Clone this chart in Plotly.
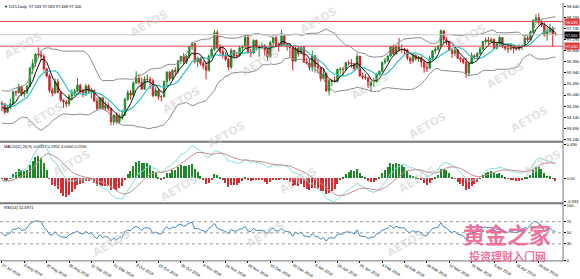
import numpy as np
import pandas as pd
import plotly.graph_objects as go

# ---------------- data ----------------
# closes before the first visible bar, only used to seed the indicators
warmup_close = [94.84, 94.78, 94.58, 95.05, 95.15, 94.87, 94.49, 94.24, 94.62, 95.03,
                95.28, 94.60, 94.88, 94.55, 94.58, 94.18, 94.00, 93.96, 94.14, 94.73,
                94.83, 94.65, 94.51, 94.99, 95.11, 95.16, 94.45, 94.49, 94.57, 94.19, 94.71]

opens = [94.71, 94.67, 94.34, 94.53, 94.68, 95.17, 95.14, 95.38, 95.08, 95.14,
         95.40, 96.12, 96.33, 96.70, 96.68, 96.62, 96.11, 95.82, 95.23, 95.12,
         95.58, 95.14, 94.83, 94.76, 94.68, 94.99, 95.14, 95.20, 95.44, 95.18,
         95.12, 95.41, 95.18, 95.24, 94.80, 94.49, 94.93, 94.50, 94.61, 94.50,
         93.95, 94.22, 93.94, 94.19, 94.22, 94.87, 95.13, 95.04, 95.53, 95.73,
         95.56, 95.28, 95.69, 95.68, 95.62, 95.02, 95.23, 94.98, 94.97, 95.59,
         95.97, 95.70, 96.05, 96.00, 96.44, 96.62, 96.39, 96.62, 97.01, 97.13,
         96.40, 96.54, 96.33, 96.23, 96.05, 96.62, 96.90, 97.58, 96.97, 96.80,
         96.67, 96.49, 96.18, 96.86, 96.65, 96.64, 96.96, 97.01, 97.40, 96.80,
         96.76, 97.27, 96.98, 97.02, 97.03, 96.88, 96.60, 97.18, 97.38, 97.06,
         97.04, 97.45, 97.10, 97.05, 96.97, 96.42, 96.95, 96.73, 96.98, 96.38,
         96.34, 96.17, 96.64, 96.21, 96.15, 95.72, 95.90, 95.21, 95.62, 95.63,
         95.60, 96.08, 96.10, 96.09, 96.36, 96.34, 96.32, 96.12, 96.62, 95.82,
         95.78, 95.74, 95.43, 95.58, 95.58, 95.90, 96.01, 96.37, 96.45, 96.63,
         97.02, 96.72, 97.03, 96.88, 96.90, 96.87, 96.54, 96.43, 96.66, 96.51,
         96.58, 96.39, 96.16, 96.14, 96.54, 96.84, 96.91, 97.03, 97.66, 97.30,
         97.21, 96.88, 96.74, 96.87, 96.54, 96.50, 96.37, 95.94, 96.32, 96.64,
         96.61, 96.73, 96.92, 97.21, 97.28, 97.22, 97.30, 96.95, 97.12, 97.38,
         97.01, 96.95, 96.92, 97.05, 96.94, 96.92, 97.03, 97.04, 97.37, 97.30,
         97.60, 98.09, 98.19, 98.01, 97.88, 97.48, 97.62, 97.77, 97.533]

highs = [94.80, 94.72, 94.63, 94.90, 95.23, 95.24, 95.50, 95.40, 95.25, 95.45,
         96.20, 96.50, 96.75, 96.98, 96.84, 96.70, 96.12, 95.90, 95.35, 95.71,
         95.70, 95.20, 94.87, 94.85, 95.08, 95.28, 95.30, 95.74, 95.50, 95.30,
         95.50, 95.48, 95.33, 95.26, 94.95, 94.95, 94.95, 94.80, 94.75, 94.52,
         94.27, 94.33, 94.26, 94.45, 94.93, 95.25, 95.24, 95.60, 96.01, 95.87,
         95.76, 95.80, 95.87, 95.78, 95.70, 95.36, 95.26, 95.05, 95.63, 96.02,
         96.02, 96.08, 96.17, 96.45, 96.63, 96.75, 96.68, 97.03, 97.20, 97.15,
         96.60, 96.60, 96.43, 96.40, 96.70, 96.98, 97.70, 97.69, 97.12, 97.05,
         96.79, 96.55, 96.95, 96.88, 96.75, 97.05, 97.06, 97.53, 97.53, 96.92,
         97.31, 97.30, 97.10, 97.18, 97.12, 97.00, 97.25, 97.40, 97.43, 97.20,
         97.71, 97.52, 97.15, 97.15, 97.00, 97.00, 97.00, 97.05, 97.05, 96.55,
         96.50, 96.85, 96.67, 96.50, 96.18, 96.12, 95.95, 95.70, 95.70, 95.80,
         96.12, 96.18, 96.20, 96.40, 96.45, 96.50, 96.35, 96.74, 96.64, 95.95,
         95.90, 95.78, 95.62, 95.75, 95.92, 96.05, 96.40, 96.56, 96.65, 97.05,
         97.10, 97.05, 97.37, 97.10, 96.96, 96.93, 96.60, 96.72, 96.70, 96.63,
         96.60, 96.48, 96.35, 96.65, 96.88, 97.00, 97.08, 97.71, 97.68, 97.40,
         97.25, 96.95, 96.95, 96.92, 96.60, 96.55, 96.55, 96.40, 96.78, 96.70,
         96.80, 97.00, 97.25, 97.38, 97.40, 97.38, 97.35, 97.20, 97.46, 97.40,
         97.05, 97.10, 97.15, 97.08, 97.05, 97.10, 97.10, 97.48, 97.45, 97.68,
         98.12, 98.33, 98.37, 98.10, 98.00, 97.80, 97.95, 97.83, 97.583]

lows = [94.39, 94.26, 94.31, 94.46, 94.64, 94.99, 95.11, 95.00, 94.95, 95.08,
        95.35, 95.90, 96.20, 96.58, 96.45, 96.00, 95.75, 95.13, 94.98, 95.10,
        95.12, 94.78, 94.52, 94.55, 94.58, 94.80, 95.00, 95.15, 95.12, 94.95,
        95.00, 95.10, 94.90, 94.75, 94.40, 94.45, 94.45, 94.40, 94.38, 93.81,
        93.81, 93.88, 93.88, 94.03, 94.21, 94.80, 94.85, 95.00, 95.50, 95.47,
        95.27, 95.25, 95.56, 95.28, 94.95, 94.99, 94.85, 94.78, 94.95, 95.40,
        95.60, 95.65, 95.83, 95.92, 96.30, 96.28, 96.30, 96.55, 96.88, 96.33,
        96.19, 96.25, 96.08, 95.68, 96.00, 96.60, 96.85, 96.92, 96.68, 96.53,
        96.43, 96.06, 96.10, 96.50, 96.53, 96.60, 96.75, 96.95, 96.72, 96.58,
        96.72, 96.85, 96.60, 96.90, 96.63, 96.45, 96.55, 96.93, 97.00, 96.81,
        97.00, 97.05, 96.85, 96.60, 96.05, 96.40, 96.60, 96.70, 96.35, 96.30,
        96.05, 96.00, 95.95, 95.92, 95.60, 95.70, 95.18, 95.03, 95.40, 95.55,
        95.55, 95.90, 95.82, 96.05, 96.25, 96.15, 96.00, 96.10, 95.78, 95.67,
        95.65, 95.33, 95.16, 95.38, 95.55, 95.80, 95.98, 96.30, 96.38, 96.60,
        96.66, 96.68, 96.80, 96.75, 96.70, 96.45, 96.30, 96.35, 96.45, 96.40,
        96.18, 95.95, 95.98, 96.10, 96.45, 96.70, 96.85, 96.98, 97.15, 97.08,
        96.83, 96.55, 96.62, 96.50, 96.38, 96.30, 95.74, 95.80, 96.30, 96.50,
        96.55, 96.70, 96.88, 97.10, 97.10, 97.18, 96.90, 96.90, 97.05, 96.95,
        96.85, 96.75, 96.85, 96.74, 96.85, 96.85, 96.88, 97.00, 97.20, 97.25,
        97.55, 97.98, 97.88, 97.80, 97.42, 97.25, 97.55, 97.03, 97.468]

closes = [94.67, 94.34, 94.53, 94.68, 95.17, 95.14, 95.38, 95.08, 95.14, 95.40,
          96.12, 96.33, 96.70, 96.68, 96.62, 96.11, 95.82, 95.23, 95.12, 95.58,
          95.14, 94.83, 94.76, 94.68, 94.99, 95.14, 95.20, 95.44, 95.18, 95.12,
          95.41, 95.18, 95.24, 94.80, 94.49, 94.93, 94.50, 94.61, 94.50, 93.95,
          94.22, 93.94, 94.19, 94.22, 94.87, 95.13, 95.04, 95.53, 95.73, 95.56,
          95.28, 95.69, 95.68, 95.62, 95.02, 95.23, 94.98, 94.97, 95.59, 95.97,
          95.70, 96.05, 96.00, 96.44, 96.62, 96.39, 96.62, 97.01, 97.13, 96.40,
          96.54, 96.33, 96.23, 96.05, 96.62, 96.90, 97.58, 96.97, 96.80, 96.67,
          96.49, 96.18, 96.86, 96.65, 96.64, 96.96, 97.01, 97.40, 96.80, 96.76,
          97.27, 96.98, 97.02, 97.03, 96.88, 96.60, 97.18, 97.38, 97.06, 97.04,
          97.45, 97.10, 97.05, 96.97, 96.42, 96.95, 96.73, 96.98, 96.38, 96.34,
          96.17, 96.64, 96.21, 96.15, 95.72, 95.90, 95.21, 95.62, 95.63, 95.60,
          96.08, 96.10, 96.09, 96.36, 96.34, 96.32, 96.12, 96.62, 95.82, 95.78,
          95.74, 95.43, 95.58, 95.58, 95.90, 96.01, 96.37, 96.45, 96.63, 97.02,
          96.72, 97.03, 96.88, 96.90, 96.87, 96.54, 96.43, 96.66, 96.51, 96.58,
          96.39, 96.16, 96.14, 96.54, 96.84, 96.91, 97.03, 97.66, 97.30, 97.21,
          96.88, 96.74, 96.87, 96.54, 96.50, 96.37, 95.94, 96.32, 96.64, 96.61,
          96.73, 96.92, 97.21, 97.28, 97.22, 97.30, 96.95, 97.12, 97.38, 97.01,
          96.95, 96.92, 97.05, 96.94, 96.92, 97.03, 97.04, 97.37, 97.30, 97.60,
          98.09, 98.19, 98.01, 97.88, 97.48, 97.62, 97.77, 97.52, 97.500]

date_labels = ["27 Jul 2018", "8 Aug 2018", "20 Aug 2018", "30 Aug 2018", "11 Sep 2018",
               "21 Sep 2018", "3 Oct 2018", "15 Oct 2018", "25 Oct 2018", "6 Nov 2018",
               "16 Nov 2018", "28 Nov 2018", "10 Dec 2018", "20 Dec 2018", "3 Jan 2019",
               "15 Jan 2019", "25 Jan 2019", "6 Feb 2019", "18 Feb 2019", "28 Feb 2019",
               "12 Mar 2019", "22 Mar 2019", "3 Apr 2019", "15 Apr 2019", "26 Apr 2019"]
date_label_bars = [0, 8, 16, 24, 32, 40, 48, 56, 64, 72, 80, 88, 96, 104, 112,
                   120, 128, 136, 144, 152, 160, 168, 176, 184, 192]

price_ticks = [93.240, 93.690, 94.140, 94.590, 95.040, 95.490, 95.940, 96.390,
               96.840, 97.290, 97.740, 98.190, 98.640]
level_lines = [98.035, 97.030]
rsi_levels = [70, 50, 30]
header_text = "DX1,Daily  97.533 97.583 97.468 97.500"

assert len(opens) == len(highs) == len(lows) == len(closes)

# ---------------- indicators ----------------
n0 = len(warmup_close)
allc = pd.Series(warmup_close + closes, dtype=float)
mid = allc.rolling(20).mean()
sd = allc.rolling(20).std(ddof=0)
bb_up = (mid + 2 * sd)[n0:].to_numpy()
bb_dn = (mid - 2 * sd)[n0:].to_numpy()
ma_fast = allc.rolling(5).mean()[n0:].to_numpy()
ma_slow = allc.rolling(10).mean()[n0:].to_numpy()
ema12 = allc.ewm(span=12, adjust=False).mean()
ema26 = allc.ewm(span=26, adjust=False).mean()
macd_s = ema12 - ema26
sig_s = macd_s.ewm(span=9, adjust=False).mean()
macd = macd_s[n0:].to_numpy()
sig = sig_s[n0:].to_numpy()
hist = 1.5 * (macd - sig)   # OsMA histogram, drawn enlarged as in the reference
d = allc.diff()
ag = d.clip(lower=0).ewm(alpha=1 / 14, adjust=False).mean()
al = (-d.clip(upper=0)).ewm(alpha=1 / 14, adjust=False).mean()
rsi = (100 - 100 / (1 + ag / al))[n0:].to_numpy()

xs = list(range(len(closes)))
W, H = 580, 279
XR = 566 / W

def dom(top_px, bot_px):
    return [1 - bot_px / H, 1 - top_px / H]

FONT = "Liberation Sans"
fig = go.Figure()

# price panel
fig.add_trace(go.Scatter(x=xs, y=bb_up, mode="lines", line=dict(color="#8c8c8c", width=1),
                         hoverinfo="skip", showlegend=False))
fig.add_trace(go.Scatter(x=xs, y=bb_dn, mode="lines", line=dict(color="#8c8c8c", width=1),
                         hoverinfo="skip", showlegend=False))
fig.add_trace(go.Scatter(x=xs, y=ma_slow, mode="lines", line=dict(color="#2ec4c4", width=1.2),
                         hoverinfo="skip", showlegend=False))
fig.add_trace(go.Candlestick(x=xs, open=opens, high=highs, low=lows, close=closes,
                             increasing=dict(line=dict(color="#1f8a2a", width=1), fillcolor="#1f8a2a"),
                             decreasing=dict(line=dict(color="#c62828", width=1), fillcolor="#c62828"),
                             whiskerwidth=0, hoverinfo="skip", showlegend=False))
fig.add_trace(go.Scatter(x=xs, y=ma_fast, mode="lines", line=dict(color="#111111", width=1),
                         hoverinfo="skip", showlegend=False))

# MACD panel
hcol = ["#1f8a2a" if v >= 0 else "#d03030" for v in hist]
fig.add_trace(go.Bar(x=xs, y=hist, marker=dict(color=hcol, line=dict(width=0)), width=0.45,
                     xaxis="x", yaxis="y2", hoverinfo="skip", showlegend=False))
fig.add_trace(go.Scatter(x=xs, y=macd, mode="lines", line=dict(color="#7fdede", width=1),
                         xaxis="x", yaxis="y2", hoverinfo="skip", showlegend=False))
fig.add_trace(go.Scatter(x=xs, y=sig, mode="lines", line=dict(color="#c98c8c", width=1),
                         xaxis="x", yaxis="y2", hoverinfo="skip", showlegend=False))

# RSI panel
fig.add_trace(go.Scatter(x=xs, y=rsi, mode="lines", line=dict(color="#3a86c8", width=1),
                         xaxis="x", yaxis="y3", hoverinfo="skip", showlegend=False))

mmax = float(max(macd.max(), sig.max(), hist.max()))
mmin = float(min(macd.min(), sig.min(), hist.min()))

tickfont = dict(family=FONT, size=4, color="#000000")
fig.update_layout(
    width=W, height=H, margin=dict(l=0, r=0, t=0, b=0),
    paper_bgcolor="white", plot_bgcolor="white", bargap=0,
    xaxis=dict(domain=[0, XR], range=[-0.7, 200.7], anchor="y3", rangeslider=dict(visible=False),
               tickmode="array", tickvals=date_label_bars, ticktext=date_labels,
               ticklabelposition="outside right", ticks="outside", ticklen=2, tickcolor="#000",
               tickfont=tickfont, showgrid=False, zeroline=False, showline=False),
    yaxis=dict(domain=dom(0, 145), range=[93.16, 98.79], side="right", anchor="x",
               tickmode="array", tickvals=price_ticks, ticktext=[f"{v:.3f}" for v in price_ticks],
               ticks="outside", ticklen=2, tickcolor="#000", tickfont=tickfont,
               showgrid=False, zeroline=False),
    yaxis2=dict(domain=dom(147, 209), range=[mmin * 1.03, mmax * 1.03], side="right", anchor="x",
                tickmode="array", tickvals=[mmax, 0, mmin],
                ticktext=[f"{mmax:.3f}", "0.00", f"{mmin:.3f}"],
                ticks="outside", ticklen=2, tickcolor="#000", tickfont=tickfont,
                showgrid=False, zeroline=False),
    yaxis3=dict(domain=dom(212, 270), range=[0, 100], side="right", anchor="x",
                tickmode="array", tickvals=[100, 70, 50, 30, 0], ticktext=["100", "70", "50", "30", "0"],
                ticks="outside", ticklen=2, tickcolor="#000", tickfont=tickfont,
                showgrid=False, zeroline=False),
)

shapes = []
# level lines and current price line
for lv in level_lines:
    shapes.append(dict(type="line", xref="x domain", yref="y", x0=0, x1=1, y0=lv, y1=lv,
                       line=dict(color="#d9534f", width=1)))
shapes.append(dict(type="line", xref="x domain", yref="y", x0=0, x1=1, y0=closes[-1], y1=closes[-1],
                   line=dict(color="#c8c8c8", width=1)))
for lv in rsi_levels:
    shapes.append(dict(type="line", xref="x domain", yref="y3", x0=0, x1=1, y0=lv, y1=lv,
                       line=dict(color="#9a9a9a", width=1, dash="dot")))
# panel separators and right axis line
for ypx, w in [(145.5, 2), (210, 2), (270.5, 1)]:
    shapes.append(dict(type="line", xref="paper", yref="paper", x0=0, x1=XR, y0=1 - ypx / H, y1=1 - ypx / H,
                       line=dict(color="#777777", width=w)))
shapes.append(dict(type="line", xref="paper", yref="paper", x0=XR, x1=XR, y0=1 - 271 / H, y1=1,
                   line=dict(color="#777777", width=1)))
fig.update_layout(shapes=shapes)

ann = []
# watermarks
wm = [(24, 45), (150, 22), (45, 118), (182, 102), (228, 138), (320, 18), (372, 88), (430, 128),
      (508, 76), (532, 122), (72, 168), (300, 186), (545, 168), (112, 252), (267, 243),
      (408, 252), (470, 36), (262, 62), (180, 195), (420, 185)]
for (px, py) in wm:
    ann.append(dict(xref="paper", yref="paper", x=px / W, y=1 - py / H, xanchor="center", yanchor="middle",
                    text="<b>AETOS</b>", showarrow=False, textangle=-30,
                    font=dict(family="DejaVu Sans", size=11, color="rgba(200,200,200,0.5)")))
# logo watermark
ann.append(dict(xref="paper", yref="paper", x=510 / W, y=1 - 241 / H, xanchor="center", yanchor="middle",
                text="<b>黄金之家</b>", showarrow=False,
                font=dict(family="Noto Sans CJK SC", size=22, color="rgba(236,90,140,0.85)")))
ann.append(dict(xref="paper", yref="paper", x=510 / W, y=1 - 265.5 / H, xanchor="center", yanchor="middle",
                text="<b>投资理财入门网</b>", showarrow=False,
                font=dict(family="Noto Sans CJK SC", size=11, color="rgba(236,90,140,0.85)")))
# header / indicator labels
small = dict(family=FONT, size=4, color="#000000")
ann.append(dict(xref="paper", yref="paper", x=2 / W, y=1 - 4 / H, xanchor="left", yanchor="middle",
                text="▼ " + header_text, showarrow=False, font=small))
ann.append(dict(xref="paper", yref="paper", x=2 / W, y=1 - 151 / H, xanchor="left", yanchor="middle",
                text=f"MACD(12,26,9) {hist[-1]:.4f} {macd[-1]:.4f} 0.0000 {sig[-1]:.4f}", showarrow=False, font=small))
ann.append(dict(xref="paper", yref="paper", x=2 / W, y=1 - 215 / H, xanchor="left", yanchor="middle",
                text=f"RSI(14) {rsi[-1]:.4f}", showarrow=False, font=small))
# right-side price boxes
for lv, col in [(level_lines[0], "#e03a3a"), (level_lines[1], "#e03a3a"), (closes[-1], "#000000")]:
    ann.append(dict(xref="paper", yref="y", x=XR + 1 / W, y=lv, xanchor="left", yanchor="middle",
                    text=f"{lv:.3f}", showarrow=False, bgcolor=col, borderpad=0.5,
                    font=dict(family=FONT, size=4, color="#ffffff")))
fig.update_layout(annotations=ann)

fig.write_html("out.html")
